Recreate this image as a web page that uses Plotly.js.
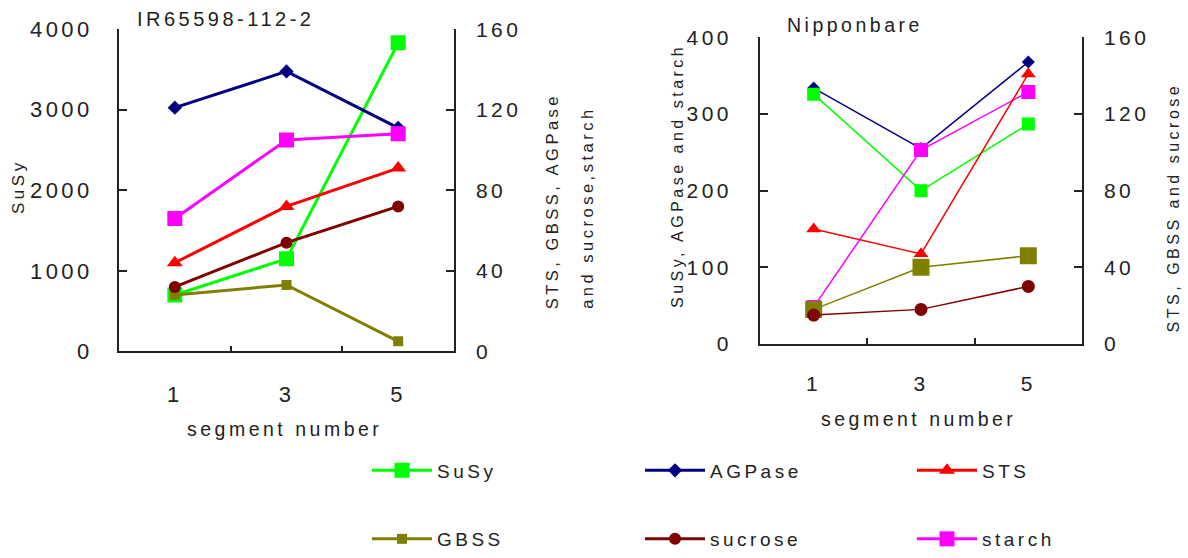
<!DOCTYPE html>
<html>
<head>
<meta charset="utf-8">
<script src="https://cdn.plot.ly/plotly-3.0.1.min.js"></script>
<style>
  html, body { margin: 0; padding: 0; background: #fff; }
  #chart { width: 1188px; height: 558px; }
  svg text { letter-spacing: 3.5px; }
</style>
</head>
<body>
<div id="chart"></div>
<script>
// ---- data ----
const segments = [1, 3, 5];
const xTickLabels = ['1', '3', '5'];

// IR65598-112-2
const susyIR    = [700, 1150, 3830];   // left axis (SuSy)
const agpaseIR  = [121, 139, 111];     // right axis
const stsIR     = [44, 72, 91];
const gbssIR    = [28, 33, 5];
const sucroseIR = [32, 54, 72];
const starchIR  = [66, 105, 108];

// Nipponbare
const susyN    = [326, 200, 287];      // left axis (SuSy, AGPase, starch)
const agpaseN  = [334, 255, 368];
const starchN  = [48, 253, 329];
const stsN     = [60, 47, 141];        // right axis (STS, GBSS, sucrose)
const gbssN    = [18, 40, 46];
const sucroseN = [15, 18, 30];

const names = ['SuSy', 'AGPase', 'STS', 'GBSS', 'sucrose', 'starch'];
const colors = {SuSy:'#00ff00', AGPase:'#000080', STS:'#ff0000', GBSS:'#808000', sucrose:'#800000', starch:'#ff00ff'};
const symbols = {SuSy:'square', AGPase:'diamond', STS:'triangle-up', GBSS:'square', sucrose:'circle', starch:'square'};
const legendIds = {SuSy:'legend', AGPase:'legend2', STS:'legend3', GBSS:'legend4', sucrose:'legend5', starch:'legend6'};

function tr(name, y, xa, ya, width, size, showLeg) {
  return {
    type: 'scatter', mode: 'lines+markers', name: name,
    x: segments, y: y, xaxis: xa, yaxis: ya,
    line: {color: colors[name], width: width},
    marker: {color: colors[name], symbol: symbols[name], size: size, line: {width: 0}},
    legend: legendIds[name], legendgroup: name, showlegend: showLeg,
    hoverinfo: 'x+y+name'
  };
}

const data = [
  tr('SuSy',    susyIR,    'x',  'y',  3, 15, true),
  tr('AGPase',  agpaseIR,  'x',  'y2', 3, 11, true),
  tr('STS',     stsIR,     'x',  'y2', 3, 14, true),
  tr('GBSS',    gbssIR,    'x',  'y2', 3, 10, true),
  tr('sucrose', sucroseIR, 'x',  'y2', 3, 12, true),
  tr('starch',  starchIR,  'x',  'y2', 3, 15, true),

  tr('AGPase',  agpaseN,   'x2', 'y3', 1.5, 10, false),
  tr('SuSy',    susyN,     'x2', 'y3', 1.5, 13, false),
  tr('starch',  starchN,   'x2', 'y3', 1.5, 14, false),
  tr('STS',     stsN,      'x2', 'y4', 1.5, 13, false),
  tr('GBSS',    gbssN,     'x2', 'y4', 1.5, 17, false),
  tr('sucrose', sucroseN,  'x2', 'y4', 1.5, 13, false)
];

const axisColor = '#222';
const fam = '"Liberation Sans", Arial, sans-serif';

function xAx(domain, anchor, fsize, standoff) {
  return {
    domain: domain, anchor: anchor, range: [0, 6],
    tickmode: 'array', tickvals: segments, ticktext: xTickLabels,
    ticks: '', showgrid: false, zeroline: false,
    showline: true, linecolor: axisColor, linewidth: 1.5,
    tickfont: {size: fsize, color: axisColor, family: fam},
    ticklabelstandoff: standoff,
    minor: {tickmode: 'array', tickvals: [2, 4], ticks: 'inside', ticklen: 6, tickwidth: 1.5, tickcolor: axisColor, showgrid: false},
    fixedrange: true
  };
}
function yAx(domain, anchor, range, dtick, side, fsize, standoff, overlaying) {
  const a = {
    domain: domain, anchor: anchor, range: range, dtick: dtick, tick0: 0,
    side: side, ticks: 'inside', ticklen: 8, tickwidth: 1.5, tickcolor: axisColor,
    showgrid: false, zeroline: false,
    showline: true, linecolor: axisColor, linewidth: 1.5,
    tickfont: {size: fsize, color: axisColor, family: fam},
    ticklabelstandoff: standoff, fixedrange: true
  };
  if (overlaying) a.overlaying = overlaying;
  return a;
}

const dxL = [119/1188, 454/1188], dyL = [1 - 353.3/558, 1 - 29.3/558];
const dxR = [760/1188, 1082/1188], dyR = [1 - 345.7/558, 1 - 37.7/558];

function ann(text, xpx, ypx, size, opts) {
  return Object.assign({
    text: text, xref: 'paper', yref: 'paper', x: xpx/1188, y: 1 - ypx/558,
    xanchor: 'center', yanchor: 'middle', showarrow: false,
    font: {size: size, color: axisColor, family: fam}
  }, opts || {});
}

function leg(xpx, ypx) {
  return {
    x: xpx/1188, y: 1 - ypx/558, xanchor: 'left', yanchor: 'middle',
    orientation: 'v', bgcolor: 'rgba(0,0,0,0)', borderwidth: 0,
    itemwidth: 60, itemclick: false, itemdoubleclick: false,
    font: {size: 19, color: axisColor, family: fam}
  };
}

const layout = {
  width: 1188, height: 558,
  margin: {l: 0, r: 0, t: 0, b: 0},
  paper_bgcolor: '#fff', plot_bgcolor: 'rgba(0,0,0,0)',
  font: {family: fam, color: axisColor},
  xaxis:  xAx(dxL, 'y', 22, 22),
  yaxis:  yAx(dyL, 'x', [0, 4000], 1000, 'left', 22, 20),
  yaxis2: yAx(dyL, 'x', [0, 160], 40, 'right', 21, 16, 'y'),
  xaxis2: xAx(dxR, 'y3', 21, 20),
  yaxis3: yAx(dyR, 'x2', [0, 400], 100, 'left', 21, 22),
  yaxis4: yAx(dyR, 'x2', [0, 160], 40, 'right', 21, 16, 'y3'),
  legend:  leg(367, 473),
  legend2: leg(640, 473),
  legend3: leg(912, 473),
  legend4: leg(367, 542),
  legend5: leg(640, 542),
  legend6: leg(912, 542),
  annotations: [
    ann('IR65598-112-2', 135, 19.5, 20, {xanchor: 'left'}),
    ann('SuSy', 19, 188, 17, {textangle: -90}),
    ann('STS, GBSS, AGPase', 552, 313, 16.5, {textangle: -90, yanchor: 'bottom'}),
    ann('and sucrose,starch', 587.5, 313, 16.5, {textangle: -90, yanchor: 'bottom'}),
    ann('segment number', 284.5, 431, 19.5),
    ann('Nipponbare', 785, 25, 19.5, {xanchor: 'left'}),
    ann('SuSy, AGPase and starch', 677.5, 177.5, 16, {textangle: -90}),
    ann('STS, GBSS and sucrose', 1173, 208.5, 16, {textangle: -90}),
    ann('segment number', 918.5, 421, 19.5)
  ],
  hovermode: 'closest'
};

Plotly.newPlot('chart', data, layout, {displayModeBar: false, staticPlot: false, responsive: false});
</script>
</body>
</html>
